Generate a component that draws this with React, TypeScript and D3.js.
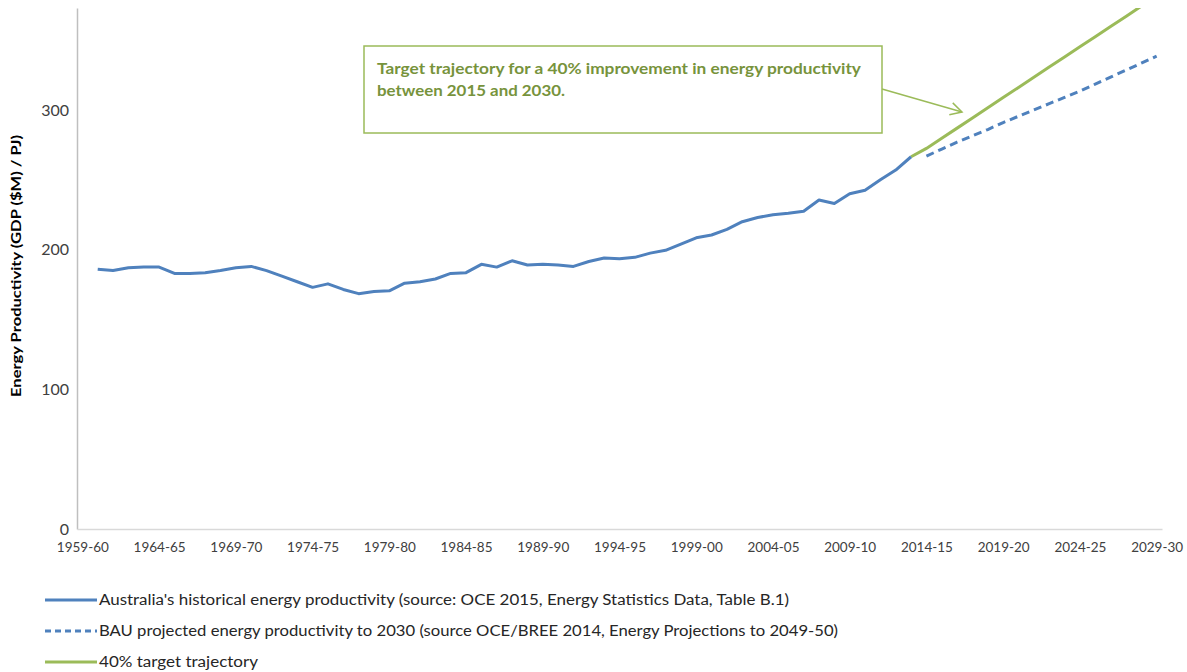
import * as d3 from "d3";
import { useEffect, useRef } from "react";

const W = 1187;
const H = 672;

// financial years 1959-60 .. 2029-30 (category axis)
const startYear = 1959;
const yearCount = 71;
const categories = d3.range(yearCount).map(
  (i) => `${startYear + i}-${String((startYear + i + 1) % 100).padStart(2, "0")}`
);
const tickLabels = [
  "1959-60", "1964-65", "1969-70", "1974-75", "1979-80", "1984-85", "1989-90",
  "1994-95", "1999-00", "2004-05", "2009-10", "2014-15", "2019-20", "2024-25", "2029-30",
];
const yTicks = [0, 100, 200, 300];

// historical series, 1960-61 .. 2013-14
const historicalStart = "1960-61";
const historical = [
  186, 185, 187, 187.5, 187.5, 183, 183, 183.5, 185, 187,
  188, 185, 181, 177, 173, 175.5, 171.5, 168.5, 170, 170.5,
  176, 177, 179, 183, 183.5, 189.5, 187.5, 192, 189, 189.5,
  189, 188, 191.5, 194, 193.5, 194.5, 197.5, 199.5, 204, 208.5,
  210.5, 214.5, 220, 223, 225, 226, 227.5, 235.5, 233, 240,
  242.5, 250, 257, 266.5,
];

// BAU projection, 2014-15 .. 2029-30
const bauStart = "2014-15";
const bau = [
  267, 272, 277, 281.5, 286, 291, 295.5, 300, 304.5, 309,
  313.5, 318.5, 323.5, 328.5, 333.5, 338.5,
];

// 40% target trajectory, 2013-14 .. 2029-30
const targetStart = "2013-14";
const target = [
  266.5, 272.5, 279.8, 287, 294.3, 301.6, 308.9, 316.1, 323.4, 330.7,
  338, 345.2, 352.5, 359.8, 367, 374.3, 381.6,
];

const legendItems = [
  { label: "Australia's historical energy productivity (source: OCE 2015, Energy Statistics Data, Table B.1)", color: "#4F81BD", dash: null, len: 690 },
  { label: "BAU projected energy productivity to 2030 (source OCE/BREE 2014, Energy Projections to 2049-50)", color: "#4F81BD", dash: "6,4", len: 739 },
  { label: "40% target trajectory", color: "#9BBB59", dash: null, len: 159 },
];

const BLUE = "#4F81BD";
const GREEN = "#9BBB59";
const FONT = "Lato, 'Open Sans', sans-serif";

const toPoints = (start: string, values: number[]) => {
  const s = categories.indexOf(start);
  return values.map((v, k) => ({ i: s + k, v }));
};

const App = () => {
  const svgRef = useRef<SVGSVGElement | null>(null);

  useEffect(() => {
    const svg = d3.select(svgRef.current);
    svg.selectAll("*").remove();

    const plot = { left: 77, right: 1162, top: 8, bottom: 529 };
    const x = d3.scaleLinear().domain([-0.35, yearCount - 1 + 0.35]).range([plot.left, plot.right]);
    const y = d3.scaleLinear().domain([0, 373]).range([plot.bottom, plot.top]);

    svg
      .append("defs")
      .append("clipPath")
      .attr("id", "plot-clip")
      .append("rect")
      .attr("x", plot.left)
      .attr("y", plot.top)
      .attr("width", plot.right - plot.left + 10)
      .attr("height", plot.bottom - plot.top);

    // y axis
    const yAxis = svg.append("g").attr("transform", `translate(${plot.left},0)`);
    yAxis.call(d3.axisLeft(y).tickValues(yTicks).tickSize(0).tickPadding(8));
    yAxis.select(".domain").attr("stroke", "#bfbfbf").attr("stroke-width", 1.5);
    yAxis
      .selectAll("text")
      .attr("fill", "#404040")
      .style("font-family", FONT)
      .style("font-size", "16px");

    // x axis
    const xAxis = svg.append("g").attr("transform", `translate(0,${plot.bottom})`);
    xAxis.call(
      d3
        .axisBottom(x)
        .tickValues(tickLabels.map((t) => categories.indexOf(t)))
        .tickFormat((d) => categories[d as number])
        .tickSize(0)
        .tickPadding(13)
    );
    xAxis.select(".domain").attr("stroke", "#d9d9d9").attr("stroke-width", 1.5);
    xAxis
      .selectAll("text")
      .attr("fill", "#404040")
      .attr("textLength", 52)
      .attr("lengthAdjust", "spacingAndGlyphs")
      .style("font-family", FONT)
      .style("font-size", "14px");

    // y title
    svg
      .append("text")
      .attr("transform", "translate(21,266) rotate(-90)")
      .attr("text-anchor", "middle")
      .attr("fill", "#000")
      .attr("textLength", 262)
      .attr("lengthAdjust", "spacingAndGlyphs")
      .style("font-family", FONT)
      .style("font-size", "12.5px")
      .style("font-weight", "bold")
      .text("Energy Productivity (GDP ($M) / PJ)");

    const line = d3
      .line<{ i: number; v: number }>()
      .x((d) => x(d.i))
      .y((d) => y(d.v));

    const lines = svg.append("g").attr("clip-path", "url(#plot-clip)");
    lines
      .append("path")
      .datum(toPoints(targetStart, target))
      .attr("d", line)
      .attr("fill", "none")
      .attr("stroke", GREEN)
      .attr("stroke-width", 3);
    lines
      .append("path")
      .datum(toPoints(bauStart, bau))
      .attr("d", line)
      .attr("fill", "none")
      .attr("stroke", BLUE)
      .attr("stroke-width", 3)
      .attr("stroke-dasharray", "8,5");
    lines
      .append("path")
      .datum(toPoints(historicalStart, historical))
      .attr("d", line)
      .attr("fill", "none")
      .attr("stroke", BLUE)
      .attr("stroke-width", 3)
      .attr("stroke-linejoin", "round");

    // annotation box
    const note = svg.append("g");
    note
      .append("rect")
      .attr("x", 364)
      .attr("y", 46)
      .attr("width", 518)
      .attr("height", 87)
      .attr("fill", "#fff")
      .attr("stroke", GREEN)
      .attr("stroke-width", 1.5);
    const noteLines = [
      { t: "Target trajectory for a 40% improvement in energy productivity", len: 484 },
      { t: "between 2015 and 2030.", len: 188 },
    ];
    note
      .selectAll("text")
      .data(noteLines)
      .join("text")
      .attr("x", 377)
      .attr("y", (_, k) => 74 + k * 22)
      .attr("fill", "#77933C")
      .attr("textLength", (d) => d.len)
      .attr("lengthAdjust", "spacingAndGlyphs")
      .style("font-family", FONT)
      .style("font-size", "15px")
      .style("font-weight", "bold")
      .text((d) => d.t);

    // arrow
    const a0 = [882, 89];
    const a1 = [962, 112];
    const ang = Math.atan2(a1[1] - a0[1], a1[0] - a0[0]);
    const hl = 13;
    const arm = (s: number) => [
      a1[0] - hl * Math.cos(ang + s),
      a1[1] - hl * Math.sin(ang + s),
    ];
    note
      .append("line")
      .attr("x1", a0[0])
      .attr("y1", a0[1])
      .attr("x2", a1[0])
      .attr("y2", a1[1])
      .attr("stroke", GREEN)
      .attr("stroke-width", 1.5);
    note
      .append("path")
      .attr("d", `M${arm(0.5)}L${a1}L${arm(-0.5)}`)
      .attr("fill", "none")
      .attr("stroke", GREEN)
      .attr("stroke-width", 1.5);

    // legend
    const legend = svg
      .append("g")
      .selectAll("g")
      .data(legendItems)
      .join("g")
      .attr("transform", (_, k) => `translate(45,${600 + k * 31})`);
    legend
      .append("line")
      .attr("x1", 0)
      .attr("x2", 52)
      .attr("stroke", (d) => d.color)
      .attr("stroke-width", 3)
      .attr("stroke-dasharray", (d) => d.dash);
    legend
      .append("text")
      .attr("x", 54)
      .attr("dy", "0.35em")
      .attr("fill", "#262626")
      .attr("textLength", (d) => d.len)
      .attr("lengthAdjust", "spacingAndGlyphs")
      .style("font-family", FONT)
      .style("font-size", "15.5px")
      .text((d) => d.label);
  }, []);

  return (
    <svg
      ref={svgRef}
      width={W}
      height={H}
      style={{ position: "absolute", left: 0, top: 0, background: "#fff" }}
    />
  );
};

export default App;
